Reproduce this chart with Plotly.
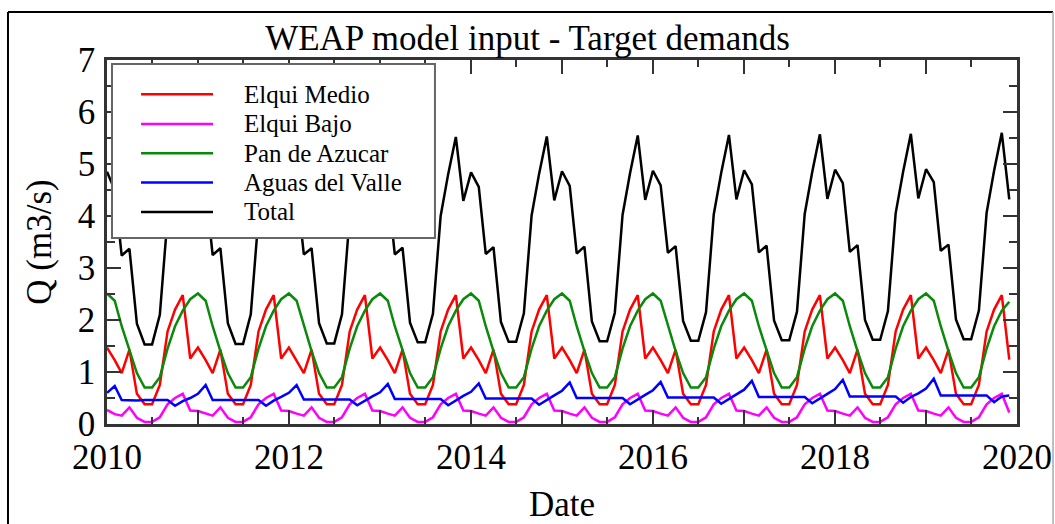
import pandas as pd
import plotly.graph_objects as go

# monthly values, Jan 2010 .. Dec 2019 (one row per year)
months = pd.date_range("2010-01-01", periods=120, freq="MS")

elqui_medio = [
    1.47, 1.23, 0.98, 1.43, 0.58, 0.38, 0.38, 0.75, 1.78, 2.20, 2.48, 1.26,
    1.47, 1.23, 0.98, 1.43, 0.58, 0.38, 0.38, 0.75, 1.78, 2.20, 2.48, 1.26,
    1.47, 1.23, 0.98, 1.43, 0.58, 0.38, 0.38, 0.75, 1.78, 2.20, 2.48, 1.26,
    1.47, 1.23, 0.98, 1.43, 0.58, 0.38, 0.38, 0.75, 1.78, 2.20, 2.48, 1.26,
    1.47, 1.23, 0.98, 1.43, 0.58, 0.38, 0.38, 0.75, 1.78, 2.20, 2.48, 1.26,
    1.47, 1.23, 0.98, 1.43, 0.58, 0.38, 0.38, 0.75, 1.78, 2.20, 2.48, 1.26,
    1.47, 1.23, 0.98, 1.43, 0.58, 0.38, 0.38, 0.75, 1.78, 2.20, 2.48, 1.26,
    1.47, 1.23, 0.98, 1.43, 0.58, 0.38, 0.38, 0.75, 1.78, 2.20, 2.48, 1.26,
    1.47, 1.23, 0.98, 1.43, 0.58, 0.38, 0.38, 0.75, 1.78, 2.20, 2.48, 1.26,
    1.47, 1.23, 0.98, 1.43, 0.58, 0.38, 0.38, 0.75, 1.78, 2.20, 2.48, 1.24,
]

elqui_bajo = [
    0.27, 0.19, 0.16, 0.32, 0.12, 0.04, 0.04, 0.13, 0.38, 0.50, 0.58, 0.26,
    0.25, 0.20, 0.16, 0.32, 0.12, 0.04, 0.04, 0.13, 0.38, 0.50, 0.58, 0.26,
    0.25, 0.20, 0.16, 0.32, 0.12, 0.04, 0.04, 0.13, 0.38, 0.50, 0.58, 0.26,
    0.25, 0.20, 0.16, 0.32, 0.12, 0.04, 0.04, 0.13, 0.38, 0.50, 0.58, 0.26,
    0.25, 0.20, 0.16, 0.32, 0.12, 0.04, 0.04, 0.13, 0.38, 0.50, 0.58, 0.26,
    0.25, 0.20, 0.16, 0.32, 0.12, 0.04, 0.04, 0.13, 0.38, 0.50, 0.58, 0.26,
    0.25, 0.20, 0.16, 0.32, 0.12, 0.04, 0.04, 0.13, 0.38, 0.50, 0.58, 0.26,
    0.25, 0.20, 0.16, 0.32, 0.12, 0.04, 0.04, 0.13, 0.38, 0.50, 0.58, 0.26,
    0.25, 0.20, 0.16, 0.32, 0.12, 0.04, 0.04, 0.13, 0.38, 0.50, 0.58, 0.26,
    0.25, 0.20, 0.16, 0.32, 0.12, 0.04, 0.04, 0.13, 0.38, 0.50, 0.58, 0.22,
]

pan_de_azucar = [
    2.51, 2.37, 1.88, 1.40, 0.98, 0.70, 0.70, 0.90, 1.45, 1.88, 2.18, 2.40,
    2.51, 2.37, 1.88, 1.40, 0.98, 0.70, 0.70, 0.90, 1.45, 1.88, 2.18, 2.40,
    2.51, 2.37, 1.88, 1.40, 0.98, 0.70, 0.70, 0.90, 1.45, 1.88, 2.18, 2.40,
    2.51, 2.37, 1.88, 1.40, 0.98, 0.70, 0.70, 0.90, 1.45, 1.88, 2.18, 2.40,
    2.51, 2.37, 1.88, 1.40, 0.98, 0.70, 0.70, 0.90, 1.45, 1.88, 2.18, 2.40,
    2.51, 2.37, 1.88, 1.40, 0.98, 0.70, 0.70, 0.90, 1.45, 1.88, 2.18, 2.40,
    2.51, 2.37, 1.88, 1.40, 0.98, 0.70, 0.70, 0.90, 1.45, 1.88, 2.18, 2.40,
    2.51, 2.37, 1.88, 1.40, 0.98, 0.70, 0.70, 0.90, 1.45, 1.88, 2.18, 2.40,
    2.51, 2.37, 1.88, 1.40, 0.98, 0.70, 0.70, 0.90, 1.45, 1.88, 2.18, 2.40,
    2.51, 2.37, 1.88, 1.40, 0.98, 0.70, 0.70, 0.90, 1.45, 1.88, 2.18, 2.35,
]

aguas_del_valle = [
    0.60, 0.73, 0.46, 0.45, 0.45, 0.46, 0.46, 0.46, 0.46, 0.35, 0.44, 0.50,
    0.58, 0.75, 0.46, 0.46, 0.46, 0.46, 0.46, 0.46, 0.46, 0.35, 0.45, 0.52,
    0.60, 0.75, 0.47, 0.47, 0.47, 0.47, 0.47, 0.47, 0.47, 0.36, 0.45, 0.53,
    0.61, 0.77, 0.48, 0.48, 0.48, 0.48, 0.48, 0.48, 0.48, 0.36, 0.46, 0.54,
    0.62, 0.78, 0.49, 0.49, 0.49, 0.49, 0.49, 0.49, 0.49, 0.37, 0.47, 0.55,
    0.64, 0.80, 0.50, 0.50, 0.50, 0.50, 0.50, 0.50, 0.50, 0.38, 0.48, 0.56,
    0.65, 0.81, 0.51, 0.51, 0.51, 0.51, 0.51, 0.51, 0.51, 0.39, 0.49, 0.57,
    0.66, 0.83, 0.52, 0.52, 0.52, 0.52, 0.52, 0.52, 0.52, 0.40, 0.50, 0.58,
    0.67, 0.85, 0.53, 0.53, 0.53, 0.53, 0.53, 0.53, 0.53, 0.41, 0.52, 0.59,
    0.68, 0.87, 0.55, 0.55, 0.55, 0.55, 0.55, 0.55, 0.55, 0.42, 0.53, 0.55,
]

total = [
    4.85, 4.50, 3.24, 3.37, 1.93, 1.53, 1.53, 2.10, 3.97, 4.77, 5.50, 4.26,
    4.82, 4.52, 3.25, 3.38, 1.94, 1.54, 1.54, 2.11, 3.98, 4.78, 5.51, 4.27,
    4.83, 4.53, 3.26, 3.38, 1.94, 1.55, 1.55, 2.11, 3.99, 4.79, 5.51, 4.28,
    4.83, 4.55, 3.26, 3.39, 1.95, 1.57, 1.57, 2.12, 4.00, 4.80, 5.52, 4.29,
    4.84, 4.56, 3.27, 3.40, 1.96, 1.58, 1.58, 2.13, 4.01, 4.81, 5.53, 4.30,
    4.86, 4.58, 3.28, 3.41, 1.97, 1.59, 1.59, 2.14, 4.02, 4.82, 5.55, 4.31,
    4.87, 4.59, 3.29, 3.42, 1.98, 1.60, 1.60, 2.15, 4.03, 4.83, 5.56, 4.32,
    4.88, 4.61, 3.30, 3.43, 1.99, 1.61, 1.61, 2.16, 4.04, 4.84, 5.57, 4.33,
    4.89, 4.63, 3.31, 3.44, 2.00, 1.62, 1.62, 2.17, 4.05, 4.85, 5.58, 4.34,
    4.90, 4.65, 3.33, 3.45, 2.01, 1.63, 1.63, 2.18, 4.06, 4.87, 5.60, 4.32,
]

series_names = ["Elqui Medio", "Elqui Bajo", "Pan de Azucar", "Aguas del Valle", "Total"]
series_colors = ["#ff0000", "#ff00ff", "#0a8a0a", "#0000ff", "#000000"]

year_ticks = ["%d-01-01" % y for y in range(2010, 2021)]
year_labels = ["2010", "", "2012", "", "2014", "", "2016", "", "2018", "", "2020"]

serif = "Liberation Serif"

fig = go.Figure()
for name, vals, col in zip(series_names,
                           [elqui_medio, elqui_bajo, pan_de_azucar, aguas_del_valle, total],
                           series_colors):
    fig.add_trace(go.Scatter(x=months, y=vals, name=name, mode="lines",
                             line=dict(color=col, width=2.5), showlegend=False))

axis_common = dict(
    showline=True, linecolor="#333", linewidth=2.5, mirror="ticks",
    ticks="inside", tickcolor="#333", tickwidth=2, ticklen=14,
    showgrid=False, zeroline=False, automargin=False,
    tickfont=dict(family=serif, size=35, color="black"),
)

fig.update_xaxes(
    **axis_common,
    type="date", range=["2010-01-01", "2020-01-01"],
    tickmode="array", tickvals=year_ticks, ticktext=year_labels,
    minor=dict(ticks="inside", ticklen=7, tickwidth=2, tickcolor="#333",
               dtick="M6", tick0="2010-01-01", showgrid=False),
    title=dict(text="Date", font=dict(family=serif, size=35, color="black"), standoff=19),
)
fig.update_yaxes(
    **axis_common,
    range=[0, 7], dtick=1, tick0=0, ticklabelstandoff=2,
    minor=dict(ticks="inside", ticklen=8, tickwidth=2, tickcolor="#333",
               dtick=0.5, showgrid=False),
    title=dict(text="Q (m3/s)", font=dict(family=serif, size=35, color="black"), standoff=16),
)

# outer frame of the figure
fig.add_shape(type="line", xref="paper", yref="paper", x0=-0.1088, x1=1.0396,
              y0=1.1319, y1=1.1319, line=dict(color="black", width=2))
fig.add_shape(type="line", xref="paper", yref="paper", x0=-0.1088, x1=-0.1088,
              y0=-0.35, y1=1.1319, line=dict(color="black", width=2))
fig.add_shape(type="line", xref="paper", yref="paper", x0=1.0396, x1=1.0396,
              y0=-0.35, y1=1.1319, line=dict(color="#aaa", width=1.5))

# legend box drawn by hand (gnuplot style: long samples, wide box)
fig.add_shape(type="rect", xref="paper", yref="paper", x0=0.0055, x1=0.3604,
              y0=0.511, y1=0.989, layer="above",
              fillcolor="white", line=dict(color="#666", width=2))
legend_rows = [0.9058, 0.8242, 0.7437, 0.6632, 0.5827]
for name, col, ly in zip(series_names, series_colors, legend_rows):
    fig.add_shape(type="line", xref="paper", yref="paper", x0=0.0374, x1=0.1165,
                  y0=ly, y1=ly, layer="above", line=dict(color=col, width=2.5))
    fig.add_annotation(text=name, xref="paper", yref="paper", x=0.1484, y=ly,
                       xanchor="left", yanchor="middle", showarrow=False,
                       font=dict(family=serif, size=25, color="black"))

fig.update_layout(
    width=1055, height=524,
    paper_bgcolor="white", plot_bgcolor="white",
    margin=dict(l=107, r=38, t=60, b=100),
    title=dict(text="WEAP model input - Target demands", x=0.5, xanchor="center",
               y=0.928, yanchor="middle",
               font=dict(family=serif, size=35, color="black")),
    font=dict(family=serif, color="black"),
    showlegend=False,
)

fig.write_html("out.html", config={"displayModeBar": False},
               post_script="document.body.style.margin='0';document.body.style.overflow='hidden';")
